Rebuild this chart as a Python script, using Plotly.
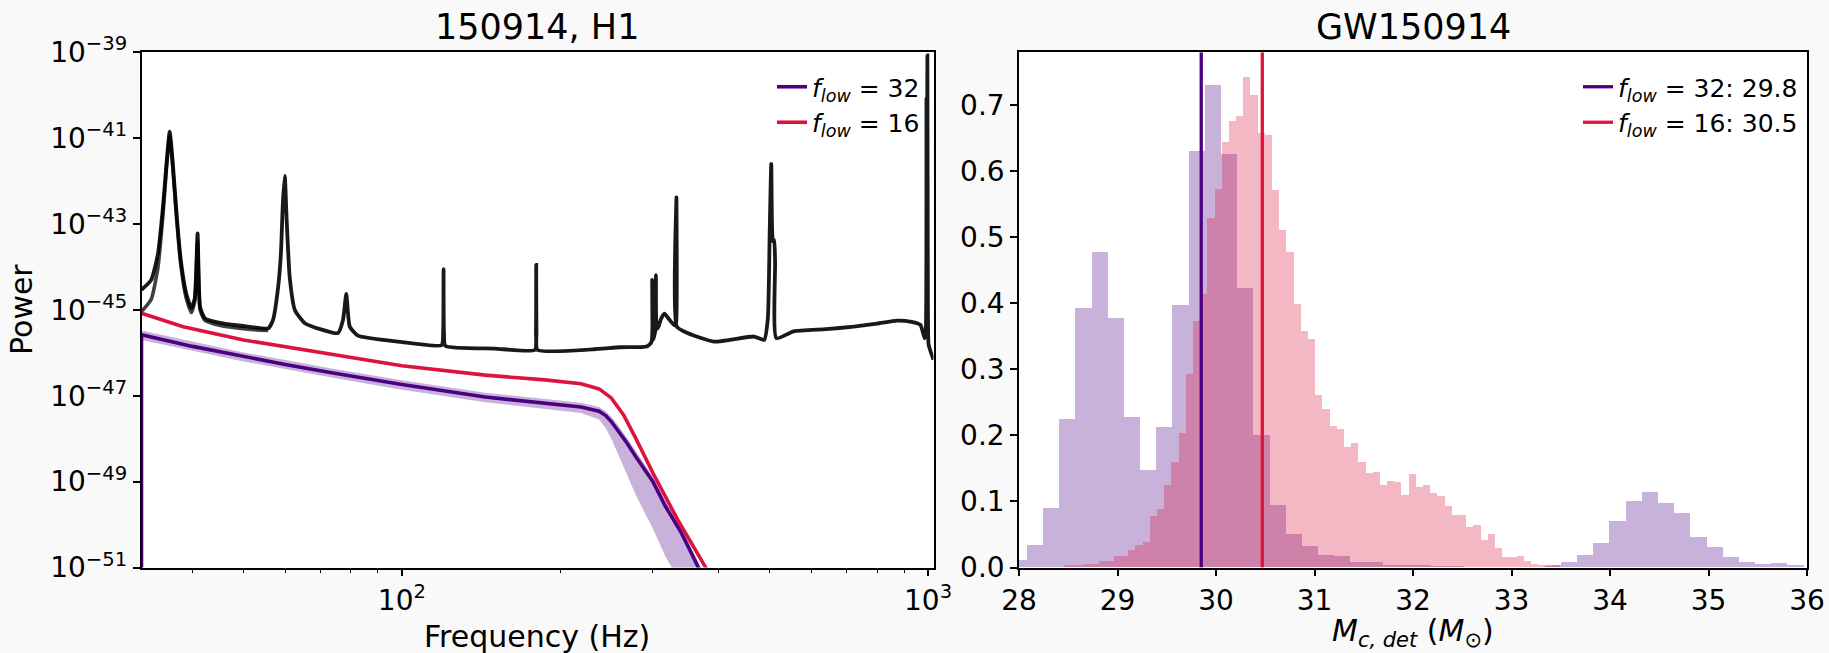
import numpy as np
import plotly.graph_objects as go

# ---------------- data: left panel (PSD / signal spectra) ----------------
psd_freq = [32.0, 33.4, 34.4, 35.2, 35.7, 36.2, 36.7, 37.3, 38.0, 38.9, 39.8, 40.4, 40.9, 41.35,
            42.2, 45.4, 51.0, 55.7, 56.9, 58.2, 58.9, 59.4, 59.9, 60.4, 61.2, 62.6, 65.4, 75.6,
            77.3, 78.4, 79.6, 82.5, 98.4, 119.0, 119.8, 120.0, 120.2, 121.0, 150.0, 179.0, 179.8,
            180.0, 180.2, 181.0, 230.0, 260.0, 292.0, 298.0, 299.0, 300.0, 303.0, 303.9, 305.0,
            307.4, 311.0, 315.6, 322.0, 330.0, 332.0, 332.5, 333.0, 349.0, 392.0, 467.0, 488.0,
            496.0, 500.0, 503.5, 507.0, 510.0, 512.0, 515.0, 555.0, 640.0, 722.0, 800.0, 873.0,
            930.0, 967.0, 985.0, 990.0, 993.0, 995.0, 997.0, 999.0, 1002.0, 1010.0, 1024.0]
psd_log10 = [-44.53, -44.30, -43.68, -42.52, -41.59, -40.85, -41.59, -42.75, -43.84, -44.61, -44.96,
             -44.73, -43.22, -44.93, -45.19, -45.31, -45.39, -45.43, -45.23, -44.46, -43.68, -42.52,
             -41.88, -42.91, -44.23, -45.0, -45.31, -45.54, -45.23, -44.63, -45.39, -45.6, -45.74,
             -45.82, -45.5, -44.05, -45.5, -45.84, -45.9, -45.93, -45.5, -43.95, -45.5, -45.93,
             -45.92, -45.87, -45.85, -45.75, -44.30, -45.7, -45.5, -44.19, -45.45, -45.39, -45.2,
             -45.09, -45.22, -45.36, -45.3, -42.38, -45.39, -45.54, -45.74, -45.62, -45.70, -45.2,
             -43.2, -41.6, -43.4, -43.37, -43.9, -45.66, -45.5, -45.45, -45.39, -45.32, -45.25,
             -45.28, -45.35, -45.66, -45.5, -40.07, -44.8, -39.07, -44.5, -45.8, -45.95, -46.16]

# a second, slightly lower PSD estimate that separates from the first at low frequency
psd2_freq = [32.0, 33.4, 34.4, 35.2, 35.7, 36.2, 36.7, 37.3, 38.0, 38.9, 39.8, 40.4, 40.9, 41.35,
             42.2, 45.4, 51.0, 55.7]
psd2_log10 = [-45.04, -44.75, -44.0, -42.7, -41.7, -40.95, -41.7, -42.85, -43.95, -44.72, -45.06,
              -44.8, -43.4, -45.0, -45.24, -45.37, -45.45, -45.48]

sig32_freq = [32.0, 32.0, 40.0, 50.0, 60.0, 74.0, 100.0, 144.0, 187.0, 219.0, 237.0, 244.0, 250.0,
              257.0, 266.0, 278.0, 300.0, 317.0, 340.0, 366.0, 390.0]
sig32_log10 = [-60.0, -45.58, -45.85, -46.09, -46.27, -46.47, -46.74, -47.03, -47.17, -47.26, -47.36,
               -47.46, -47.6, -47.79, -48.05, -48.41, -49.0, -49.58, -50.2, -51.0, -51.8]

band32_freq = [32.0, 50.0, 74.0, 100.0, 144.0, 187.0, 219.0, 237.0, 244.0, 250.0, 257.0, 266.0,
               278.0, 300.0, 317.0, 340.0, 366.0, 390.0]
band32_low = [-45.7, -46.2, -46.58, -46.86, -47.15, -47.3, -47.4, -47.55, -47.75, -48.0, -48.35,
              -48.75, -49.3, -50.1, -50.75, -51.4, -52.2, -53.0]
band32_high = [-45.48, -45.99, -46.37, -46.64, -46.93, -47.07, -47.16, -47.26, -47.36, -47.49, -47.67,
               -47.93, -48.29, -48.88, -49.46, -50.08, -50.88, -51.68]

sig16_freq = [32.0, 38.4, 50.0, 74.0, 100.0, 144.0, 187.0, 219.0, 237.0, 250.0, 264.0, 278.0, 300.0,
              334.0, 378.0, 400.0]
sig16_log10 = [-45.08, -45.39, -45.7, -46.05, -46.3, -46.52, -46.63, -46.72, -46.84, -47.05, -47.45,
               -47.98, -48.8, -49.88, -51.0, -51.6]

# ---------------- data: right panel (chirp-mass posteriors) ----------------
m32_first_edge = 27.915
m32_bin_width = 0.1643
m32_density = [0.0115, 0.034, 0.0893, 0.225, 0.392, 0.4775, 0.378, 0.228, 0.147, 0.212, 0.397,
               0.630, 0.730, 0.625, 0.4227, 0.2006, 0.094, 0.051, 0.032, 0.018, 0.017, 0.0076,
               0.0076, 0.004, 0.004, 0.003, 0.002, 0.002, 0.001, 0.001, 0.001, 0.0005, 0.001,
               0.004, 0.0073, 0.0178, 0.0366, 0.0705, 0.1003, 0.1144, 0.0967, 0.082, 0.0455,
               0.0303, 0.0162, 0.0078, 0.0042, 0.0057, 0.0037]

m16_first_edge = 28.306
m16_bin_width = 0.0730
m16_density = [0.001, 0.001, 0.0026, 0.0026, 0.0026, 0.005, 0.005, 0.009, 0.009, 0.0167, 0.0167,
               0.0256, 0.033, 0.0376, 0.077, 0.088, 0.124, 0.160, 0.203, 0.293, 0.372, 0.414,
               0.528, 0.572, 0.643, 0.676, 0.683, 0.742, 0.715, 0.657, 0.655, 0.571, 0.511, 0.477,
               0.398, 0.358, 0.345, 0.261, 0.239, 0.214, 0.209, 0.182, 0.188, 0.160, 0.142, 0.144,
               0.124, 0.130, 0.129, 0.109, 0.1405, 0.121, 0.125, 0.112, 0.108, 0.0925, 0.0784,
               0.0794, 0.061, 0.0637, 0.0418, 0.0496, 0.0287, 0.0162, 0.0162, 0.0167, 0.0089,
               0.005, 0.0037, 0.0016, 0.0026, 0.001, 0.0005]

median32 = 29.85
median16 = 30.47

INDIGO = "#4b0082"
CRIMSON = "#dc143c"
FONT = "DejaVu Sans"

def pw(vals):
    return [10.0 ** v for v in vals]

def centers(first, width, n):
    return [first + width * (k + 0.5) for k in range(n)]

fig = go.Figure()

# left panel
fig.add_trace(go.Scatter(x=psd2_freq, y=pw(psd2_log10), mode="lines",
                         line=dict(color="rgba(0,0,0,0.75)", width=3.6, shape="spline", smoothing=0.5),
                         showlegend=False, xaxis="x", yaxis="y"))
fig.add_trace(go.Scatter(x=psd_freq, y=pw(psd_log10), mode="lines",
                         line=dict(color="rgba(0,0,0,0.9)", width=3.8, shape="spline", smoothing=0.5),
                         showlegend=False, xaxis="x", yaxis="y"))
fig.add_trace(go.Scatter(x=band32_freq, y=pw(band32_low), mode="lines", line=dict(width=0),
                         showlegend=False, hoverinfo="skip", xaxis="x", yaxis="y"))
fig.add_trace(go.Scatter(x=band32_freq, y=pw(band32_high), mode="lines", line=dict(width=0),
                         fill="tonexty", fillcolor="rgba(75,0,130,0.30)",
                         showlegend=False, hoverinfo="skip", xaxis="x", yaxis="y"))
fig.add_trace(go.Scatter(x=sig32_freq, y=pw(sig32_log10), mode="lines",
                         line=dict(color=INDIGO, width=3.6),
                         name="<i>f</i><sub><i>low</i></sub> = 32", legend="legend",
                         xaxis="x", yaxis="y"))
fig.add_trace(go.Scatter(x=sig16_freq, y=pw(sig16_log10), mode="lines",
                         line=dict(color=CRIMSON, width=3.6),
                         name="<i>f</i><sub><i>low</i></sub> = 16", legend="legend",
                         xaxis="x", yaxis="y"))

# right panel
fig.add_trace(go.Bar(x=centers(m32_first_edge, m32_bin_width, len(m32_density)), y=m32_density,
                     width=m32_bin_width, marker=dict(color="rgba(75,0,130,0.30)", line=dict(width=0)),
                     showlegend=False, xaxis="x2", yaxis="y2"))
fig.add_trace(go.Bar(x=centers(m16_first_edge, m16_bin_width, len(m16_density)), y=m16_density,
                     width=m16_bin_width, marker=dict(color="rgba(220,20,60,0.30)", line=dict(width=0)),
                     showlegend=False, xaxis="x2", yaxis="y2"))
fig.add_trace(go.Scatter(x=[median32, median32], y=[0, 0.78], mode="lines",
                         line=dict(color=INDIGO, width=3.3),
                         name="<i>f</i><sub><i>low</i></sub> = 32: 29.8", legend="legend2",
                         xaxis="x2", yaxis="y2"))
fig.add_trace(go.Scatter(x=[median16, median16], y=[0, 0.78], mode="lines",
                         line=dict(color=CRIMSON, width=3.3),
                         name="<i>f</i><sub><i>low</i></sub> = 16: 30.5", legend="legend2",
                         xaxis="x2", yaxis="y2"))

W, H = 1829, 653
def px(v):
    return v / W
def py(v):
    return (H - v) / H

axis_common = dict(showline=True, linecolor="black", linewidth=1.5, mirror=True,
                   ticks="outside", ticklen=7, tickwidth=1.5, tickcolor="black",
                   showgrid=False, zeroline=False, automargin=False,
                   tickfont=dict(family=FONT, size=28, color="black"))

y_exps = [-51, -49, -47, -45, -43, -41, -39]
fig.update_layout(
    width=W, height=H,
    margin=dict(l=0, r=0, t=0, b=0, pad=0, autoexpand=False),
    paper_bgcolor="#f9f9f9", plot_bgcolor="white",
    barmode="overlay", bargap=0,
    font=dict(family=FONT, size=24, color="black"),
    xaxis=dict(axis_common, type="log", domain=[px(141.5), px(933.5)],
               range=[np.log10(32), np.log10(1024)], anchor="y",
               tickmode="array", tickvals=[100, 1000],
               ticktext=["10<sup>2</sup>", "10<sup>3</sup>"],
               minor=dict(ticks="outside", ticklen=4, tickwidth=1.2, tickcolor="black",
                          tickmode="array",
                          tickvals=[40, 50, 60, 70, 80, 90, 200, 300, 400, 500, 600, 700, 800, 900])),
    yaxis=dict(axis_common, type="log", domain=[py(567.5), py(52.3)], range=[-51, -39], anchor="x",
               tickmode="array", tickvals=[10.0 ** e for e in y_exps],
               ticktext=["10<sup>\u2212%d</sup>" % (-e) for e in y_exps]),
    xaxis2=dict(axis_common, domain=[px(1019), px(1807)], range=[28, 36], anchor="y2",
                tickmode="array", tickvals=list(range(28, 37)),
                ticktext=[str(v) for v in range(28, 37)]),
    yaxis2=dict(axis_common, domain=[py(567.5), py(52.3)], range=[0, 0.78], anchor="x2",
                tickmode="array", tickvals=[0, 0.1, 0.2, 0.3, 0.4, 0.5, 0.6, 0.7],
                ticktext=["0.0", "0.1", "0.2", "0.3", "0.4", "0.5", "0.6", "0.7"]),
    legend=dict(x=px(772), y=py(64), xanchor="left", yanchor="top", traceorder="normal",
                bgcolor="rgba(0,0,0,0)", font=dict(family=FONT, size=25, color="black")),
    legend2=dict(x=px(1578), y=py(64), xanchor="left", yanchor="top", traceorder="normal",
                 bgcolor="rgba(0,0,0,0)", font=dict(family=FONT, size=25, color="black")),
    showlegend=True,
)

ann_font = dict(family=FONT, size=30, color="black")
fig.add_annotation(text="150914, H1", x=px(537), y=py(27), xref="paper", yref="paper",
                   showarrow=False, xanchor="center", yanchor="middle",
                   font=dict(family=FONT, size=35, color="black"))
fig.add_annotation(text="GW150914", x=px(1413), y=py(27), xref="paper", yref="paper",
                   showarrow=False, xanchor="center", yanchor="middle",
                   font=dict(family=FONT, size=35, color="black"))
fig.add_annotation(text="Frequency (Hz)", x=px(537), y=py(636), xref="paper", yref="paper",
                   showarrow=False, xanchor="center", yanchor="middle", font=ann_font)
fig.add_annotation(text="<i>M</i><sub><i>c, det</i></sub> (<i>M</i><sub>\u2299</sub>)",
                   x=px(1413), y=py(632), xref="paper", yref="paper",
                   showarrow=False, xanchor="center", yanchor="middle", font=ann_font)
fig.add_annotation(text="Power", x=px(21), y=py(310), xref="paper", yref="paper",
                   showarrow=False, xanchor="center", yanchor="middle", textangle=-90,
                   font=ann_font)

fig.write_html("out.html")
